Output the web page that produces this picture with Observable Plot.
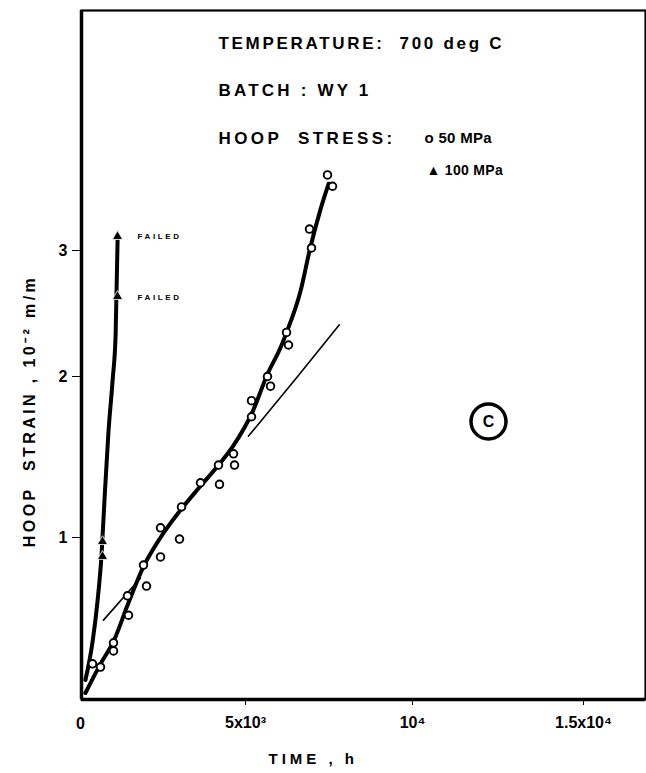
<!DOCTYPE html>
<html><head><meta charset="utf-8">
<script src="https://cdn.jsdelivr.net/npm/d3@7"></script>
<script src="https://cdn.jsdelivr.net/npm/@observablehq/plot@0.6"></script>
<style>body{margin:0;background:#fff}#chart svg{overflow:visible}</style>
</head><body><div id="chart"></div>
<script>
// 50 MPa measured points (time h, hoop strain 10^-2 m/m)
const time50 = [335, 579, 976, 976, 1433, 1402, 1982, 1890, 2409, 2409, 2988, 3049, 3628, 4207, 4177, 4665, 4634, 5180, 5180, 5659, 5749, 6228, 6287, 6916, 6976, 7455, 7605];
const strain50 = [0.22, 0.20, 0.35, 0.30, 0.52, 0.64, 0.70, 0.83, 0.88, 1.06, 0.99, 1.19, 1.34, 1.33, 1.45, 1.45, 1.52, 1.85, 1.75, 2.00, 1.94, 2.35, 2.25, 3.17, 3.02, 3.60, 3.51];
// 100 MPa measured points
const time100 = [640, 640, 1098, 1098];
const strain100 = [0.975, 0.883, 2.635, 3.111];
// hand-drawn fitted curves
const curve50Time = [120, 580, 980, 1400, 1890, 2410, 3020, 3630, 4180, 4630, 5210, 5660, 6050, 6230, 6650, 6920, 7250, 7490];
const curve50Strain = [0.04, 0.22, 0.36, 0.58, 0.82, 1.00, 1.17, 1.32, 1.45, 1.57, 1.78, 2.02, 2.23, 2.35, 2.68, 3.00, 3.33, 3.53];
const curve100Time = [120, 340, 490, 610, 700, 820, 950, 1040, 1100];
const curve100Strain = [0.12, 0.36, 0.61, 0.89, 1.23, 1.65, 1.98, 2.33, 3.08];
// thin tangent line (two visible pieces)
const tangentATime = [670, 1800];
const tangentAStrain = [0.49, 0.75];
const tangentBTime = [5090, 6560, 7810];
const tangentBStrain = [1.63, 2.00, 2.41];
// axes
const xTicks = [0, 5000, 10000, 15000];
const xTickLabels = ["0", "5x10³", "10⁴", "1.5x10⁴"];
const yTicks = [1, 2, 3];
const yTickLabels = ["1", "2", "3"];
const failedLabels = ["FAILED", "FAILED"];
const infoLines = ["TEMPERATURE:  700 deg C", "BATCH : WY 1", "HOOP  STRESS:"];
const legendLines = ["o 50 MPa", "▲ 100 MPa"];
const xTitle = "TIME , h";
const yTitle = "HOOP  STRAIN , 10⁻² m/m";

const pts50 = time50.map((t, i) => ({t, s: strain50[i]}));
const pts100 = time100.map((t, i) => ({t, s: strain100[i]}));
const c50 = curve50Time.map((t, i) => ({t, s: curve50Strain[i]}));
const c100 = curve100Time.map((t, i) => ({t, s: curve100Strain[i]}));
const tA = tangentATime.map((t, i) => ({t, s: tangentAStrain[i]}));
const tB = tangentBTime.map((t, i) => ({t, s: tangentBStrain[i]}));

const font = "'Liberation Sans', Arial, sans-serif";
const note = (s, dx, dy, size, extra = {}) =>
  Plot.text([s], {frameAnchor: "top-left", dx, dy, textAnchor: "start", lineAnchor: "middle", fontSize: size, fontWeight: "bold", ...extra});

const chart = Plot.plot({
  width: 646,
  height: 773,
  marginLeft: 81,
  marginRight: 1,
  marginTop: 10,
  marginBottom: 74,
  style: {fontFamily: font, fontWeight: "bold", fontSize: "15px", color: "#000", background: "#fff"},
  x: {
    type: "linear",
    domain: xTicks,
    range: [81, 245, 412, 583],
    ticks: [5000, 10000, 15000],
    tickFormat: d => xTickLabels[xTicks.indexOf(d)],
    tickSize: 6,
    tickPadding: 11,
    label: null
  },
  y: {
    type: "linear",
    domain: [0, 1, 2, 3],
    range: [699, 537, 376, 250],
    ticks: yTicks,
    tickFormat: d => yTickLabels[yTicks.indexOf(d)],
    tickSize: 9,
    tickPadding: 5,
    label: null
  },
  marks: [
    Plot.frame({stroke: "#000", strokeWidth: 2.2}),
    Plot.ruleX([0], {stroke: "#000", strokeWidth: 3.5}),
    Plot.ruleY([0], {stroke: "#000", strokeWidth: 3.5}),
    Plot.text([xTickLabels[0]], {frameAnchor: "bottom-left", dx: -1, dy: 24, textAnchor: "middle", lineAnchor: "middle", fontSize: 16, fontWeight: "bold"}),
    // tangent
    Plot.line(tA, {x: "t", y: "s", stroke: "#000", strokeWidth: 1.6}),
    Plot.line(tB, {x: "t", y: "s", stroke: "#000", strokeWidth: 1.6}),
    // fitted curves
    Plot.line(c50, {x: "t", y: "s", curve: "monotone-x", stroke: "#000", strokeWidth: 4}),
    Plot.line(c100, {x: "t", y: "s", curve: "monotone-x", stroke: "#000", strokeWidth: 4}),
    // points
    Plot.dot(pts50, {x: "t", y: "s", r: 3.8, stroke: "#000", fill: "#fff", strokeWidth: 1.9}),
    Plot.dot(pts100, {x: "t", y: "s", symbol: "triangle", r: 3.8, fill: "#000", stroke: "#fff", strokeWidth: 0.8}),
    // FAILED labels
    note(failedLabels[0], 56, 226, 8),
    note(failedLabels[1], 56, 287, 8),
    // info text
    note(infoLines[0], 137, 33, 17),
    note(infoLines[1], 137, 80, 17),
    note(infoLines[2], 137, 128, 17),
    note(legendLines[0], 343, 128, 15),
    note(legendLines[1], 345, 160, 14),
    // circled C
    Plot.dot([0], {frameAnchor: "top-left", dx: 407, dy: 411, r: 17.5, stroke: "#000", strokeWidth: 3.5, fill: "none"}),
    Plot.text(["C"], {frameAnchor: "top-left", dx: 407, dy: 411, textAnchor: "middle", lineAnchor: "middle", fontSize: 16, fontWeight: "bold"}),
    // axis titles
    Plot.text([xTitle], {frameAnchor: "bottom-left", dx: 187, dy: 60, textAnchor: "start", lineAnchor: "middle", fontSize: 15, fontWeight: "bold"}),
    Plot.text([yTitle], {frameAnchor: "left", dx: -52, dy: 56, rotate: -90, textAnchor: "middle", lineAnchor: "middle", fontSize: 16, fontWeight: "bold"})
  ]
});
document.getElementById("chart").appendChild(chart);

// tick label size and letter spacing of the typed lettering
const svg = d3.select(chart);
svg.selectAll('g[aria-label^="x-axis"] text, g[aria-label^="y-axis"] text').attr("font-size", 16).attr("font-weight", "bold");
const spacing = new Map([
  [infoLines[0], 2.7], [infoLines[1], 3.2], [infoLines[2], 3.4],
  [legendLines[0], 0.3], [legendLines[1], 0.3],
  [failedLabels[0], 2.6], [xTitle, 4], [yTitle, 3.4]
]);
svg.selectAll("text").each(function() {
  const t = this.textContent;
  if (spacing.has(t)) d3.select(this).attr("letter-spacing", spacing.get(t));
});
</script>
</body></html>
